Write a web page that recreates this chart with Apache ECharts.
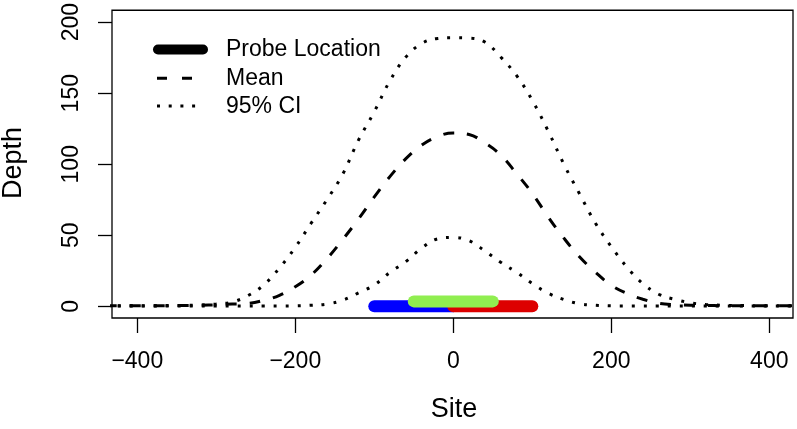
<!DOCTYPE html>
<html>
<head>
<meta charset="utf-8">
<script src="https://cdn.jsdelivr.net/npm/echarts@6/dist/echarts.min.js"></script>
<style>
html,body{margin:0;padding:0;background:#fff;}
#c{width:797px;height:429px;}
</style>
</head>
<body>
<div id="c"></div>
<script>
// Site positions (x) for the curves
var sites = [-440,-420,-400,-380,-360,-340,-320,-300,-280,-260,-240,-220,-200,-180,-160,-140,-120,-100,-80,-60,-40,-20,0,20,40,60,80,100,120,140,160,180,200,220,240,260,280,300,320,340,360,380,400,420,440];
var meanDepth = [0.5,0.5,0.5,0.5,0.5,0.6,0.8,1.1,1.6,2.0,4.2,7.8,13.8,22,33.5,47,61.5,77,91.5,104,113.5,119.5,122,121,115,106.5,93.5,79.5,63,48,34.7,24,14.8,9,5,2.2,1.2,0.8,0.6,0.5,0.5,0.5,0.5,0.5,0.5];
var upperCI = [0.5,0.5,0.5,0.5,0.6,0.7,1.0,1.6,3.0,7.5,15,27,41.5,58.5,75,93,117,137,159,175.5,185,188.5,189,188.8,186,175.5,162.5,145,123.5,100,79,58.5,42,27.5,16,8.5,5,2.5,1.3,0.8,0.6,0.5,0.5,0.5,0.5];
var lowerCI = [0.3,0.3,0.3,0.3,0.3,0.3,0.3,0.3,0.3,0.3,0.3,0.3,0.4,0.8,1.6,4.3,9.5,15,24,31.5,41,47.5,48.5,46.2,39,31,24,16,9.3,4.8,1.8,0.8,0.4,0.3,0.3,0.3,0.3,0.3,0.3,0.3,0.3,0.3,0.3,0.3,0.3];

// Probe locations: [start site, end site, depth]
var probeBlue = [-100, 0, 0];
var probeRed = [0, 100, 0];
var probeGreen = [-50, 50, 3.5];

var xTicks = [-400,-200,0,200,400];
var yTicks = [0,50,100,150,200];

function pairs(xs, ys){ return xs.map(function(x,i){return [x, ys[i]];}); }
function seg(p){ return [[p[0],p[2]],[p[1],p[2]]]; }

var FONT = 'Liberation Sans, Arial, sans-serif';
var chart = echarts.init(document.getElementById('c'));

function probeSeries(p, color){
  return {type:'line', data:seg(p), showSymbol:false, symbol:'none', silent:true,
    lineStyle:{color:color, width:12, cap:'round'}, z:5};
}

chart.setOption({
  animation:false,
  backgroundColor:'#fff',
  grid:{left:112, right:4, top:8, bottom:111, show:true, borderColor:'#000', borderWidth:1.3, backgroundColor:'transparent'},
  xAxis:{type:'value', min:-432, max:430,
    axisLine:{show:false, onZero:false},
    splitLine:{show:false},
    axisTick:{show:true, length:15, customValues:xTicks, lineStyle:{color:'#000', width:1.3}},
    axisLabel:{customValues:xTicks, margin:32, fontSize:23, color:'#000', fontFamily:FONT,
      formatter:function(v){return String(v).replace('-', '\u2212');}}
  },
  yAxis:{type:'value', min:-8.2, max:208.4,
    axisLine:{show:false, onZero:false},
    splitLine:{show:false},
    axisTick:{show:true, length:14, customValues:yTicks, lineStyle:{color:'#000', width:1.3}},
    axisLabel:{customValues:yTicks, margin:29, rotate:90, fontSize:23, color:'#000', fontFamily:FONT}
  },
  series:[
    {type:'line', data:pairs(sites, upperCI), smooth:0.4, showSymbol:false, symbol:'none',
      lineStyle:{color:'#000', width:3, type:[3,9], cap:'butt'}},
    {type:'line', data:pairs(sites, lowerCI), smooth:0.4, showSymbol:false, symbol:'none',
      lineStyle:{color:'#000', width:3, type:[3,9], cap:'butt'}},
    {type:'line', data:pairs(sites, meanDepth), smooth:0.4, showSymbol:false, symbol:'none',
      lineStyle:{color:'#000', width:3, type:[11,13], cap:'butt'}},
    probeSeries(probeBlue, '#0000ff'),
    probeSeries(probeRed, '#dd0000'),
    probeSeries(probeGreen, '#90ee50')
  ],
  graphic:[
    {type:'text', x:14, y:163, rotation:Math.PI/2,
      style:{text:'Depth', fontSize:27, fontFamily:FONT, fill:'#000', textAlign:'center', textVerticalAlign:'middle'}},
    {type:'text', x:454, y:410,
      style:{text:'Site', fontSize:27, fontFamily:FONT, fill:'#000', textAlign:'center', textVerticalAlign:'middle'}},
    {type:'line', shape:{x1:158, y1:49.5, x2:203, y2:49.5}, style:{stroke:'#000', lineWidth:10, lineCap:'round'}},
    {type:'line', shape:{x1:157, y1:78.3, x2:192, y2:78.3}, style:{stroke:'#000', lineWidth:3, lineDash:[10,15]}},
    {type:'line', shape:{x1:157, y1:106, x2:196, y2:106}, style:{stroke:'#000', lineWidth:3, lineDash:[3,8.7]}},
    {type:'text', x:226, y:49.5, style:{text:'Probe Location', fontSize:23, fontFamily:FONT, fill:'#000', textVerticalAlign:'middle'}},
    {type:'text', x:226, y:78.3, style:{text:'Mean', fontSize:23, fontFamily:FONT, fill:'#000', textVerticalAlign:'middle'}},
    {type:'text', x:226, y:106.5, style:{text:'95% CI', fontSize:23, fontFamily:FONT, fill:'#000', textVerticalAlign:'middle'}}
  ]
});
</script>
</body>
</html>
